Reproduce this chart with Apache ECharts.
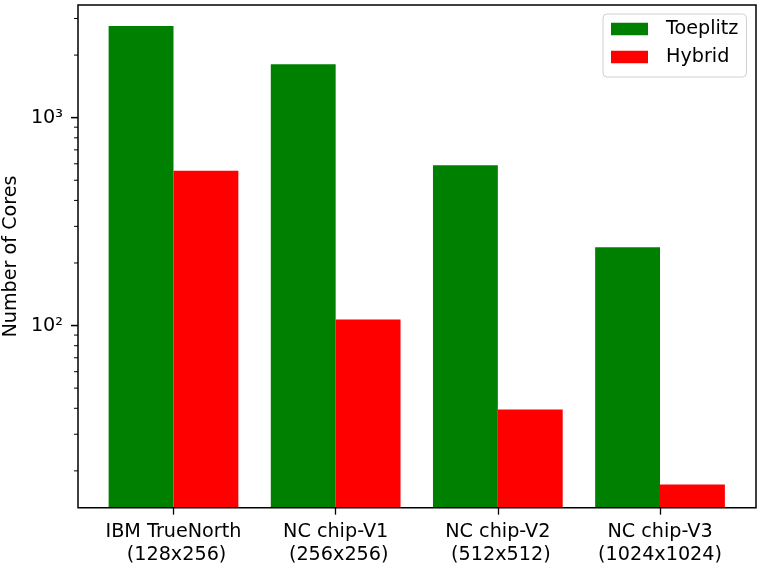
<!DOCTYPE html>
<html>
<head>
<meta charset="utf-8">
<script src="https://cdn.jsdelivr.net/npm/echarts@6/dist/echarts.min.js"></script>
<style>
html,body{margin:0;padding:0;background:#fff;}
#chart{width:768px;height:571px;}
</style>
</head>
<body>
<div id="chart"></div>
<script>
const categories = ['IBM TrueNorth\n (128x256)', 'NC chip-V1\n (256x256)', 'NC chip-V2\n (512x512)', 'NC chip-V3\n(1024x1024)'];
const toeplitz = [2760, 1807, 590, 238];
const hybrid = [556, 107, 39.5, 17.2];
const seriesNames = ['Toeplitz', 'Hybrid'];
const yRange = [13.3, 3483];
const majorTickValues = [100, 1000];
const majorTickLabels = {100: '10²', 1000: '10³'};
const minorTickValues = [20, 30, 40, 50, 60, 70, 80, 90, 200, 300, 400, 500, 600, 700, 800, 900, 2000, 3000];
const yAxisName = 'Number of Cores';

const FONT = 'DejaVu Sans';
const FS = 19.2;
const frameGrid = {left: 78, right: 12, top: 5, bottom: 63.3, outerBoundsMode: 'none', containLabel: false};

function tickSeries(values, len, width) {
  return {
    type: 'custom', xAxisIndex: 0, yAxisIndex: 0, clip: false, z: 20, silent: true,
    data: values.map(v => [0, v]),
    renderItem: function (params, api) {
      const p = api.coord([api.value(0), api.value(1)]);
      return {
        type: 'line',
        shape: {x1: p[0] - len, y1: p[1], x2: p[0], y2: p[1]},
        style: {stroke: '#000', lineWidth: width}
      };
    }
  };
}

const chart = echarts.init(document.getElementById('chart'), null, {renderer: 'canvas'});
chart.setOption({
  backgroundColor: '#fff',
  animation: false,
  textStyle: {fontFamily: FONT},
  tooltip: {show: false},
  grid: [
    Object.assign({show: true, borderColor: '#000', borderWidth: 1.5, backgroundColor: 'transparent', z: 10}, frameGrid),
    {left: 92.4, right: 26.9, top: 5, bottom: 63.3, outerBoundsMode: 'none', containLabel: false}
  ],
  legend: {
    data: seriesNames,
    orient: 'vertical',
    left: 603, top: 14,
    padding: [5, 8, 10, 8],
    itemWidth: 37, itemHeight: 12.5,
    itemGap: 8,
    icon: 'rect',
    backgroundColor: '#fff',
    borderColor: '#d0d0d0', borderWidth: 1, borderRadius: 4,
    textStyle: {fontFamily: FONT, fontSize: FS, color: '#000', lineHeight: 20, padding: [0, 0, 0, 13]}
  },
  graphic: [{
    type: 'text', x: 10.8, y: 256.5, rotation: Math.PI / 2,
    style: {text: yAxisName, x: 0, y: 0, align: 'center', verticalAlign: 'middle', fontFamily: FONT, fontSize: FS, fill: '#000'}
  }],
  xAxis: [
    {type: 'value', gridIndex: 0, show: false, min: 0, max: 1},
    {
      type: 'category', gridIndex: 1, data: categories,
      axisLine: {show: false},
      axisTick: {show: true, alignWithLabel: true, length: 7, lineStyle: {color: '#000', width: 1.3}},
      axisLabel: {interval: 0, margin: 12.5, fontFamily: FONT, fontSize: FS, lineHeight: 23, color: '#000'},
      splitLine: {show: false}
    }
  ],
  yAxis: [
    {
      type: 'log', gridIndex: 0, position: 'left', min: yRange[0], max: yRange[1],
      axisLine: {show: false},
      axisTick: {show: true, length: 7, customValues: majorTickValues, lineStyle: {color: '#000', width: 1.3}},
      axisLabel: {
        customValues: majorTickValues, margin: 15, color: '#000',
        fontFamily: FONT, fontSize: FS,
        formatter: v => majorTickLabels[Math.round(v)]
      },
      splitLine: {show: false}
    },
    {
      type: 'log', gridIndex: 1, min: yRange[0], max: yRange[1], show: false,
      splitLine: {show: false}
    }
  ],
  series: [
    {name: seriesNames[0], type: 'bar', xAxisIndex: 1, yAxisIndex: 1, data: toeplitz, barWidth: '40%', barGap: '0%', itemStyle: {color: '#008000'}, clip: true},
    {name: seriesNames[1], type: 'bar', xAxisIndex: 1, yAxisIndex: 1, data: hybrid, barWidth: '40%', barGap: '0%', itemStyle: {color: '#ff0000'}, clip: true},
    tickSeries(majorTickValues, 7, 1.3),
    tickSeries(minorTickValues, 4, 1)
  ]
});
</script>
</body>
</html>
